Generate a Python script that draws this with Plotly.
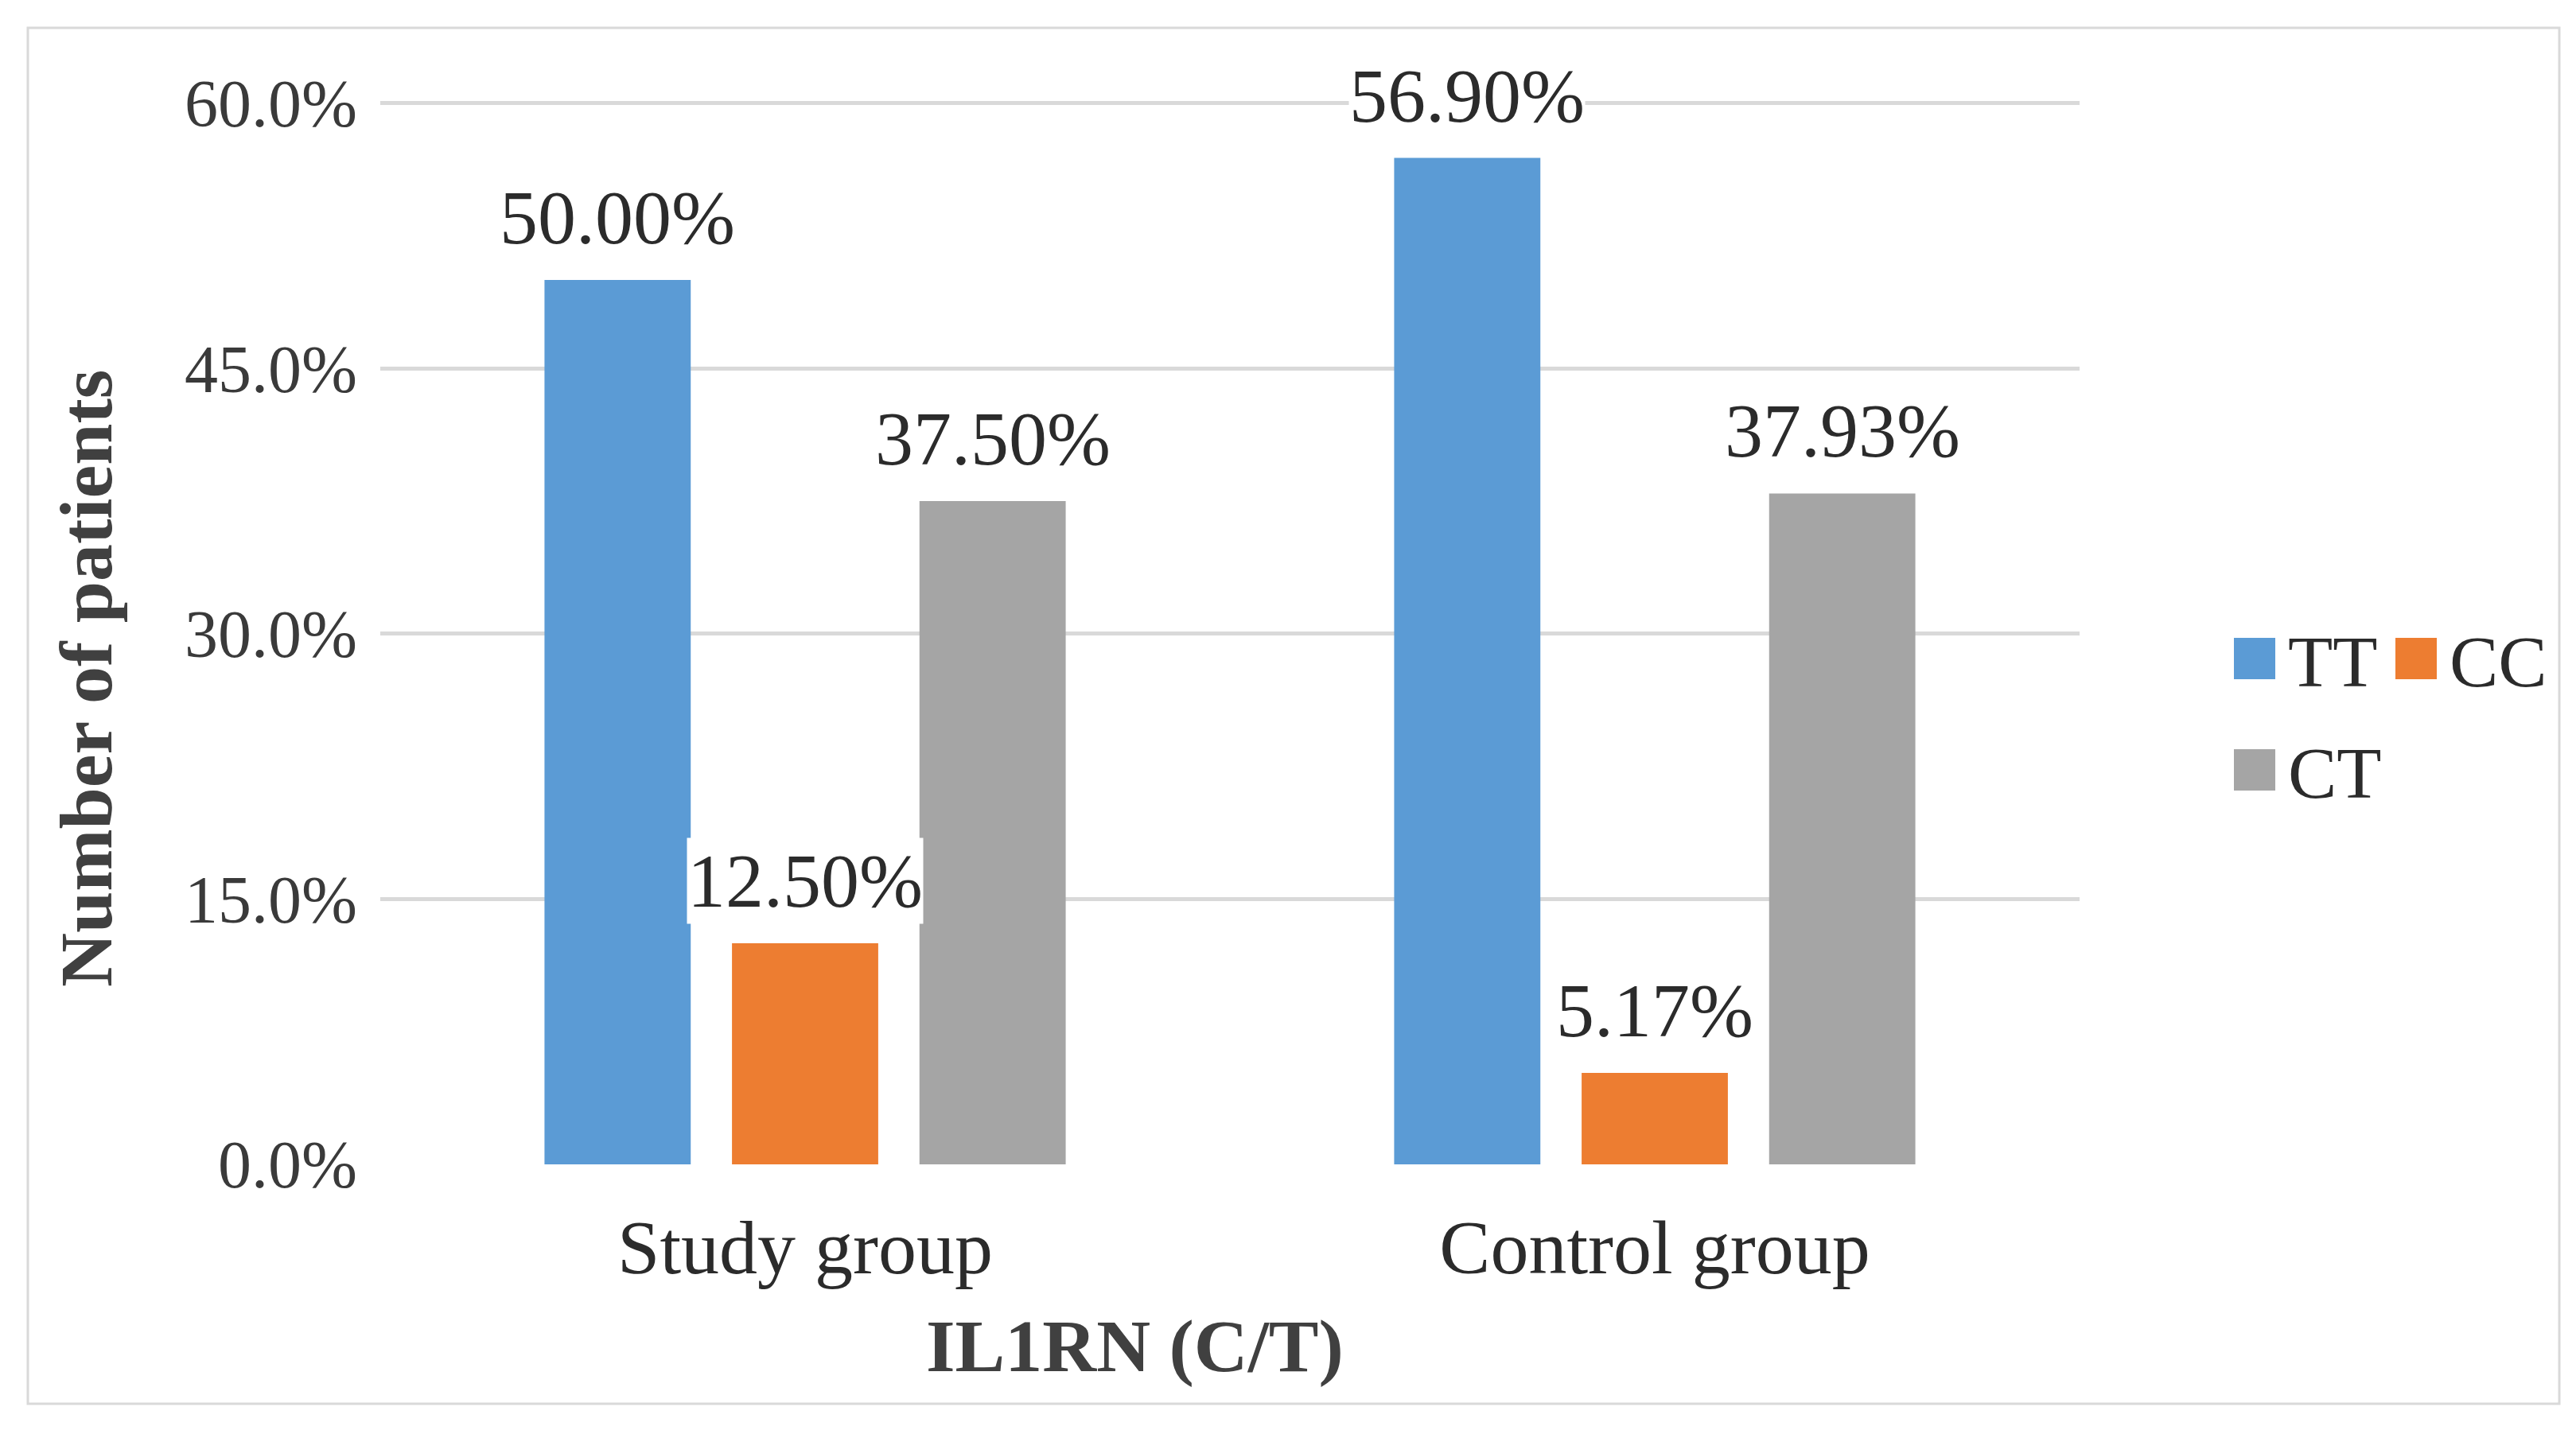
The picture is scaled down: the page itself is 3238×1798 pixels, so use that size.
import plotly.graph_objects as go

# ---- data ----
categories = ["Study group", "Control group"]
series_names = ["TT", "CC", "CT"]
tt_values = [50.00, 56.90]
cc_values = [12.50, 5.17]
ct_values = [37.50, 37.93]
series_colors = ["#5B9BD5", "#ED7D31", "#A5A5A5"]
y_tick_values = [0, 15, 30, 45, 60]
y_tick_labels = ["0.0%", "15.0%", "30.0%", "45.0%", "60.0%"]
x_title = "IL1RN (C/T)"
y_title = "Number of patients"

series_values = [tt_values, cc_values, ct_values]

# ---- layout geometry ----
W, H = 3238, 1798
Y_TOP = 60.3
ML, MR, MB = 470, 632, 342
MT = 122 - round((Y_TOP - 60) / 60 * (H - 122 - MB))
PW = W - ML - MR
PH = H - MT - MB
BARGAP = 0.338
BARGROUPGAP = 0.22
FONT = "Liberation Serif"
TEXT_COLOR = "#2b2b2b"


def px_to_paper_x(px):
    return (px - ML) / PW


def px_to_paper_y(py):
    return (H - MB - py) / PH


fig = go.Figure()
for name, vals, color in zip(series_names, series_values, series_colors):
    fig.add_trace(go.Bar(
        x=categories, y=vals, name=name,
        marker=dict(color=color, line=dict(width=0)),
        hoverinfo="skip", showlegend=False,
    ))

# data labels (annotations anchored at each bar via category axis + group offset)
slot_px = PW / len(categories) * (1 - BARGAP) / len(series_names)
annotations = []
for i, vals in enumerate(series_values):
    offset = (i - (len(series_names) - 1) / 2) * slot_px
    for cat, v in zip(categories, vals):
        annotations.append(dict(
            x=cat, y=v, xref="x", yref="y", text=f"{v:.2f}%",
            showarrow=False, xshift=offset, yanchor="bottom", yshift=24,
            bgcolor="white", borderpad=0,
            font=dict(family=FONT, size=96, color=TEXT_COLOR),
        ))

# axis titles
annotations.append(dict(
    x=px_to_paper_x(1418), y=px_to_paper_y(1684), xref="paper", yref="paper",
    text=f"<b>{x_title}</b>",
    showarrow=False, xanchor="center", yanchor="middle",
    font=dict(family=FONT, size=94, color="#404040"),
))
annotations.append(dict(
    x=px_to_paper_x(100), y=px_to_paper_y(845), xref="paper", yref="paper",
    text=f"<b>{y_title}</b>",
    showarrow=False, xanchor="center", yanchor="middle", textangle=-90,
    font=dict(family=FONT, size=94, color="#404040"),
))

# legend (two rows: TT, CC on the first; CT on the second)
legend_rows = [0, 0, 1]
legend_cols_px = [2800, 3003, 2800]
row_center_px = [820, 960]
SQ = 52
shapes = [dict(
    type="rect", xref="paper", yref="paper",
    x0=px_to_paper_x(27), x1=px_to_paper_x(3209),
    y0=px_to_paper_y(1757), y1=px_to_paper_y(27),
    line=dict(color="#d9d9d9", width=3), fillcolor="rgba(0,0,0,0)", layer="below",
)]
for name, color, row, colx in zip(series_names, series_colors, legend_rows, legend_cols_px):
    cy = row_center_px[row]
    shapes.append(dict(
        type="rect", xref="paper", yref="paper",
        x0=px_to_paper_x(colx), x1=px_to_paper_x(colx + SQ),
        y0=px_to_paper_y(cy + SQ / 2), y1=px_to_paper_y(cy - SQ / 2),
        line=dict(width=0), fillcolor=color, layer="above",
    ))
    annotations.append(dict(
        x=px_to_paper_x(colx + SQ + 14), y=px_to_paper_y(cy + 4), xref="paper", yref="paper",
        text=name, showarrow=False, xanchor="left", yanchor="middle",
        font=dict(family=FONT, size=92, color=TEXT_COLOR),
    ))

fig.update_layout(
    width=W, height=H,
    margin=dict(l=ML, r=MR, t=MT, b=MB, autoexpand=False),
    paper_bgcolor="white", plot_bgcolor="white",
    barmode="group", bargap=BARGAP, bargroupgap=BARGROUPGAP,
    font=dict(family=FONT, color=TEXT_COLOR),
    annotations=annotations,
    shapes=shapes,
    showlegend=False,
)

fig.update_xaxes(
    showgrid=False, zeroline=False, showline=False, ticks="",
    tickfont=dict(family=FONT, size=96, color=TEXT_COLOR),
    ticklabelstandoff=40,
)
fig.update_yaxes(
    range=[0, Y_TOP], tickmode="array", tickvals=y_tick_values, ticktext=y_tick_labels,
    showgrid=True, gridcolor="#d9d9d9", gridwidth=5,
    zeroline=False, showline=False, ticks="",
    tickfont=dict(family=FONT, size=84, color="#3a3a3a"),
    ticklabelstandoff=28,
)

fig.write_html("out.html")
